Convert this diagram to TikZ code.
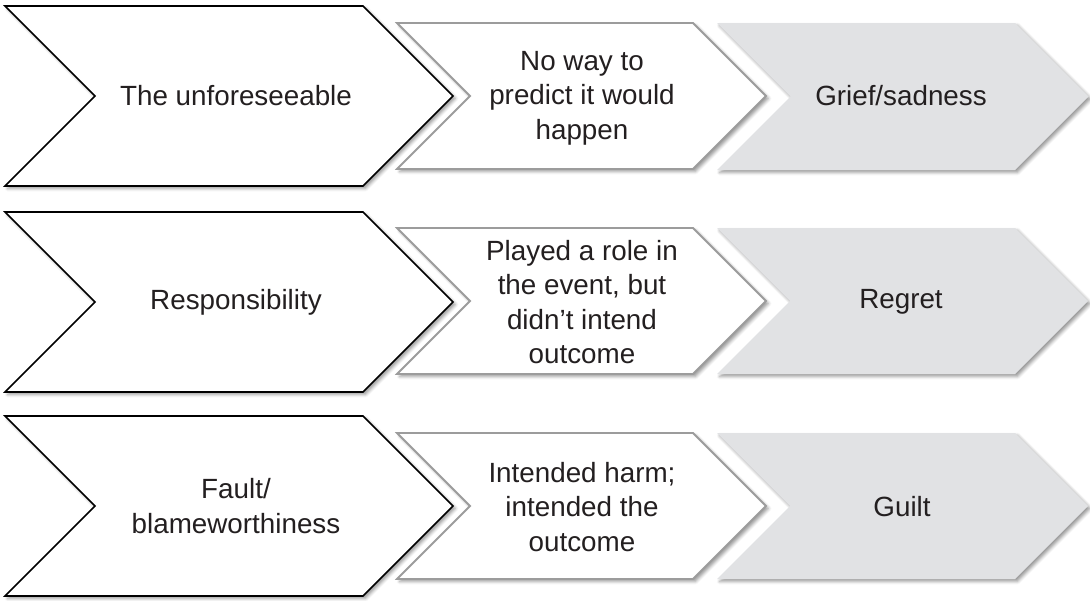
\documentclass[tikz,border=0pt]{standalone}
\usepackage{fontspec}
\setmainfont{Liberation Sans}
\usetikzlibrary{shadows.blur}
\definecolor{chgray}{HTML}{E1E2E4}
\definecolor{bgray}{HTML}{9C9C9C}
\definecolor{txt}{HTML}{231F20}
\newcommand\chevshape[6]{%
  \path[#1] (#2,#4) -- (#3,#4) -- ({#3+(#5-#4)/2},{(#4+#5)/2}) -- (#3,#5) -- (#2,#5)
    -- ({#2+(#5-#4)/2},{(#4+#5)/2}) -- cycle;}
\tikzset{
  shd/.style={blur shadow={shadow xshift=2.5pt, shadow yshift=-2.5pt, shadow blur radius=3pt, shadow opacity=40}},
  chA/.style={draw=black, line width=1.6pt, fill=white, line join=miter, shd},
  chB/.style={draw=bgray, line width=1.8pt, fill=white, line join=miter, shd},
  chC/.style={draw=none, fill=chgray, shd},
  lbl/.style={font=\fontsize{27.8}{34.5}\selectfont, align=center, text=txt, inner sep=0pt}
}
\begin{document}
\begin{tikzpicture}[x=1pt,y=-1pt]
\useasboundingbox (0,0) rectangle (1090,600);
% row 1
\chevshape{chC}{717}{1015}{23}{170}{}
\chevshape{chB}{397}{693}{23}{169}{}
\chevshape{chA}{5}{363}{6}{186}{}
% row 2
\chevshape{chC}{717}{1015}{228}{374}{}
\chevshape{chB}{397}{693}{228}{374}{}
\chevshape{chA}{5}{363}{212}{392}{}
% row 3
\chevshape{chC}{717}{1015}{433}{579}{}
\chevshape{chB}{397}{693}{433}{579}{}
\chevshape{chA}{5}{363}{416}{596}{}
% labels
\node[lbl] (a1) at (236,96) {The unforeseeable};
\node[lbl] (b1) at (582,98) {No way to\\predict it would\\happen};
\node[lbl] (c1) at (901,96) {Grief/sadness};
\node[lbl] (a2) at (236,302) {Responsibility};
\node[lbl] (b2) at (582,302) {Played a role in\\the event, but\\didn’t intend\\outcome};
\node[lbl] (c2) at (901,302) {Regret};
\node[lbl] (a3) at (236,506) {Fault/\\blameworthiness};
\node[lbl] (b3) at (582,507) {Intended harm;\\intended the\\outcome};
\node[lbl] (c3) at (902,507) {Guilt};
\end{tikzpicture}
\end{document}
